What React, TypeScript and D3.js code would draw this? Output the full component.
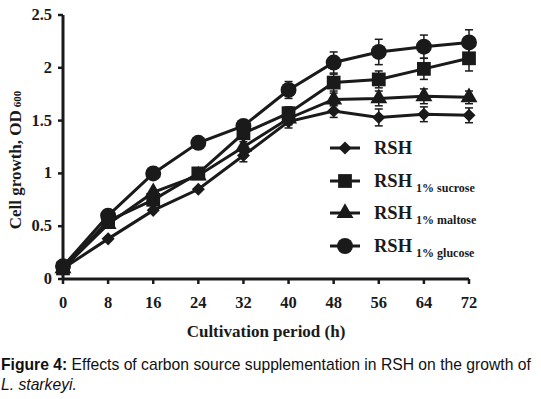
import * as d3 from "d3";

const hours = [0, 8, 16, 24, 32, 40, 48, 56, 64, 72];
const rsh = [0.1, 0.38, 0.65, 0.85, 1.17, 1.49, 1.59, 1.53, 1.56, 1.55];
const rshErr = [0.02, 0.02, 0.02, 0.02, 0.06, 0.06, 0.06, 0.08, 0.07, 0.07];
const sucrose = [0.1, 0.55, 0.75, 1.0, 1.38, 1.57, 1.86, 1.89, 1.99, 2.09];
const sucroseErr = [0.02, 0.02, 0.03, 0.03, 0.05, 0.06, 0.08, 0.08, 0.1, 0.12];
const maltose = [0.1, 0.52, 0.82, 0.98, 1.25, 1.52, 1.7, 1.71, 1.73, 1.72];
const maltoseErr = [0.02, 0.02, 0.03, 0.03, 0.05, 0.06, 0.06, 0.07, 0.07, 0.06];
const glucose = [0.12, 0.6, 1.0, 1.29, 1.45, 1.79, 2.05, 2.15, 2.2, 2.24];
const glucoseErr = [0.02, 0.02, 0.02, 0.03, 0.05, 0.08, 0.1, 0.12, 0.11, 0.12];
const yTicks = [0, 0.5, 1, 1.5, 2, 2.5];

const seriesNames = ["RSH", "RSH", "RSH", "RSH"];
const seriesSubs = ["", "1% sucrose", "1% maltose", "1% glucose"];
const seriesShapes = ["diamond", "square", "triangle", "circle"];
const seriesValues = [rsh, sucrose, maltose, glucose];
const seriesErrors = [rshErr, sucroseErr, maltoseErr, glucoseErr];

const x = d3.scaleLinear().domain([0, 72]).range([63, 469]);
const y = d3.scaleLinear().domain([0, 2.5]).range([279, 15]);

const symbolFor = (s: string) =>
  s === "diamond" || s === "square" ? d3.symbolSquare : s === "triangle" ? d3.symbolTriangle : d3.symbolCircle;
const sizeFor = (s: string) => (s === "diamond" ? 85 : s === "square" ? 190 : s === "triangle" ? 125 : 200);

function Marker({ shape, cx, cy }: { shape: string; cx: number; cy: number }) {
  const p = d3.symbol().type(symbolFor(shape)).size(sizeFor(shape))() as string;
  const rot = shape === "diamond" ? " rotate(45)" : "";
  return <path d={p} transform={`translate(${cx},${cy})${rot}`} fill="#1a1a1a" />;
}

export default function App() {
  const line = d3
    .line<number>()
    .x((_, i) => x(hours[i]))
    .y((d) => y(d));
  const serif = "'Liberation Serif', 'Times New Roman', serif";
  const ink = "#1a1a1a";
  const legendY = [148, 181, 213, 246];

  return (
    <svg width={541} height={399} style={{ position: "absolute", left: 0, top: 0, background: "#fff" }}>
      {/* series */}
      {seriesValues.map((vals, si) => (
        <g key={si}>
          <path d={line(vals) as string} fill="none" stroke={ink} strokeWidth={3} />
          {vals.map((v, i) =>
            seriesErrors[si][i] > 0.03 ? (
              <g key={i} stroke={ink} strokeWidth={1.5}>
                <line x1={x(hours[i])} x2={x(hours[i])} y1={y(v - seriesErrors[si][i])} y2={y(v + seriesErrors[si][i])} />
                <line x1={x(hours[i]) - 4} x2={x(hours[i]) + 4} y1={y(v + seriesErrors[si][i])} y2={y(v + seriesErrors[si][i])} />
                <line x1={x(hours[i]) - 4} x2={x(hours[i]) + 4} y1={y(v - seriesErrors[si][i])} y2={y(v - seriesErrors[si][i])} />
              </g>
            ) : null
          )}
          {vals.map((v, i) => (
            <Marker key={"m" + i} shape={seriesShapes[si]} cx={x(hours[i])} cy={y(v)} />
          ))}
        </g>
      ))}

      {/* axes */}
      <line x1={x(0)} x2={x(72)} y1={y(0)} y2={y(0)} stroke={ink} strokeWidth={3} />
      <line x1={x(0)} x2={x(0)} y1={y(0)} y2={y(2.5)} stroke={ink} strokeWidth={3} />
      {hours.map((h) => (
        <g key={h}>
          <line x1={x(h)} x2={x(h)} y1={y(0)} y2={y(0) + 5} stroke={ink} strokeWidth={2.5} />
          <text x={x(h)} y={308} textAnchor="middle" fontFamily={serif} fontWeight="bold" fontSize={16.5} fill={ink}>
            {h}
          </text>
        </g>
      ))}
      {yTicks.map((t) => (
        <g key={t}>
          <line x1={x(0) - 5} x2={x(0)} y1={y(t)} y2={y(t)} stroke={ink} strokeWidth={2.5} />
          <text x={52} y={y(t) + 5} textAnchor="end" fontFamily={serif} fontWeight="bold" fontSize={16.5} fill={ink}>
            {t}
          </text>
        </g>
      ))}

      {/* axis titles */}
      <text x={266} y={337} textAnchor="middle" fontFamily={serif} fontWeight="bold" fontSize={17} fill={ink}>
        Cultivation period (h)
      </text>
      <text transform="translate(21,160) rotate(-90)" textAnchor="middle" fontFamily={serif} fontWeight="bold" fontSize={17} fill={ink}>
        Cell growth, OD<tspan fontSize={11} dx={3}>600</tspan>
      </text>

      {/* legend */}
      {seriesNames.map((n, i) => (
        <g key={i}>
          <line x1={330} x2={360} y1={legendY[i]} y2={legendY[i]} stroke={ink} strokeWidth={3} />
          <Marker shape={seriesShapes[i]} cx={345} cy={legendY[i]} />
          <text x={374} y={legendY[i] + 6} fontFamily={serif} fontWeight="bold" fontSize={18.5} fill={ink}>
            {n}
            {seriesSubs[i] ? (
              <tspan fontSize={12} dx={4} dy={5}>
                {seriesSubs[i]}
              </tspan>
            ) : null}
          </text>
        </g>
      ))}

      {/* caption */}
      <text x={1} y={370} fontFamily="'Liberation Sans', Arial, sans-serif" fontSize={15.7} fill="#111">
        <tspan fontWeight="bold">Figure 4:</tspan> Effects of carbon source supplementation in RSH on the growth of
      </text>
      <text x={1} y={390} fontFamily="'Liberation Sans', Arial, sans-serif" fontSize={15.7} fontStyle="italic" fill="#111">
        L. starkeyi.
      </text>
    </svg>
  );
}
